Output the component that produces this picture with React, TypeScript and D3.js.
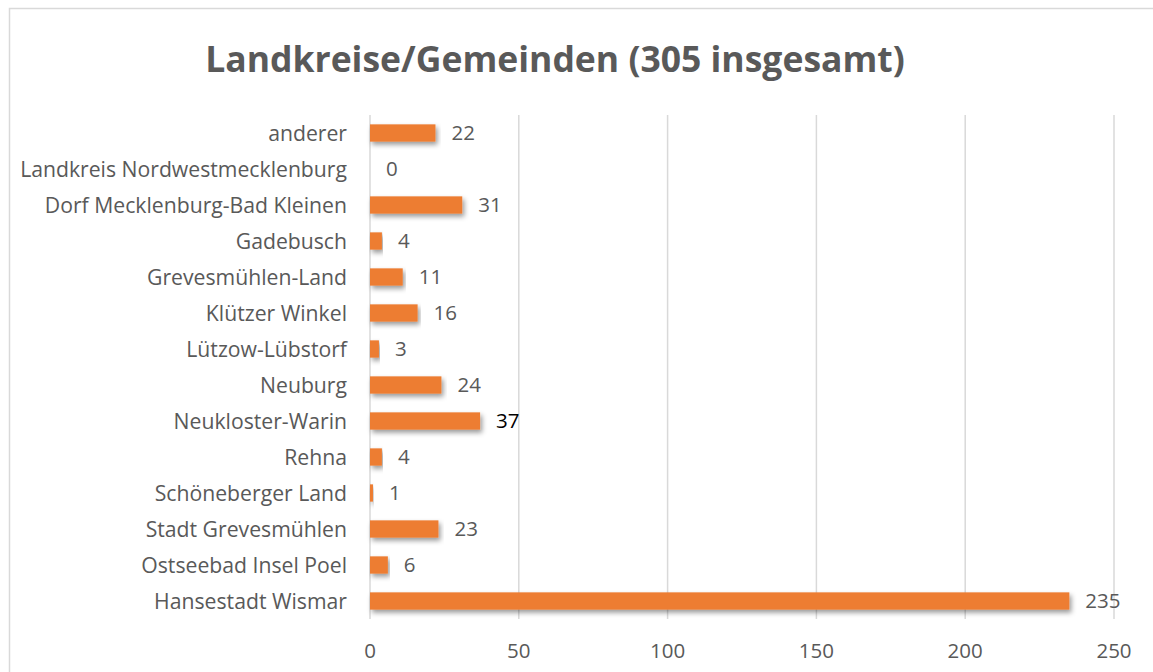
import React from 'react';
import * as d3 from 'd3';

const categories = [
  'anderer',
  'Landkreis Nordwestmecklenburg',
  'Dorf Mecklenburg-Bad Kleinen',
  'Gadebusch',
  'Grevesmühlen-Land',
  'Klützer Winkel',
  'Lützow-Lübstorf',
  'Neuburg',
  'Neukloster-Warin',
  'Rehna',
  'Schöneberger Land',
  'Stadt Grevesmühlen',
  'Ostseebad Insel Poel',
  'Hansestadt Wismar',
];
const values = [22, 0, 31, 4, 11, 16, 3, 24, 37, 4, 1, 23, 6, 235];
const xTicks = [0, 50, 100, 150, 200, 250];

const width = 1153;
const height = 672;
const margin = { top: 115, right: 39, bottom: 53, left: 370 };
const font = "'Open Sans', 'Liberation Sans', sans-serif";
const textColor = '#595959';

const App = () => {
  const x = d3.scaleLinear().domain([0, 250]).range([margin.left, width - margin.right]);
  const y = d3
    .scaleBand()
    .domain(categories)
    .range([margin.top, height - margin.bottom])
    .paddingInner(0.52)
    .paddingOuter(0.26);

  return (
    <svg
      width={width}
      height={height}
      style={{ position: 'absolute', left: 0, top: 0, background: '#fff' }}
    >
      <defs>
        <filter id="shadow" x="-5%" y="-60%" width="112%" height="260%">
          <feDropShadow dx="2" dy="3" stdDeviation="2.5" floodColor="#000" floodOpacity="0.4" />
        </filter>
      </defs>
      <rect x={9.5} y={8.5} width={width + 20} height={height + 20} fill="#fff" stroke="#d9d9d9" strokeWidth={1.5} />
      <text
        x={555}
        y={72}
        textAnchor="middle"
        fontFamily={font}
        fontWeight="bold"
        fontSize={35.5}
        fill={textColor}
      >
        Landkreise/Gemeinden (305 insgesamt)
      </text>
      {xTicks.map((t) => (
        <g key={t}>
          <line x1={x(t)} x2={x(t)} y1={margin.top} y2={height - margin.bottom} stroke="#d9d9d9" strokeWidth={1.5} />
          <text x={x(t)} y={658} textAnchor="middle" fontFamily={font} fontSize={20.5} fill={textColor}>
            {t}
          </text>
        </g>
      ))}
      {categories.map((c, i) => {
        const yc = (y(c) as number) + y.bandwidth() / 2;
        return (
          <g key={c}>
            <text x={347} y={yc} dy="0.36em" textAnchor="end" fontFamily={font} fontSize={21.2} fill={textColor}>
              {c}
            </text>
            {values[i] > 0 && (
              <rect
                x={x(0)}
                y={y(c)}
                width={x(values[i]) - x(0)}
                height={y.bandwidth()}
                fill="#ED7D31"
                filter="url(#shadow)"
              />
            )}
            <text
              x={x(values[i]) + 16}
              y={yc}
              dy="0.36em"
              fontFamily={font}
              fontSize={20.5}
              fill={values[i] === 37 ? '#000' : textColor}
            >
              {values[i]}
            </text>
          </g>
        );
      })}
    </svg>
  );
};

export default App;
